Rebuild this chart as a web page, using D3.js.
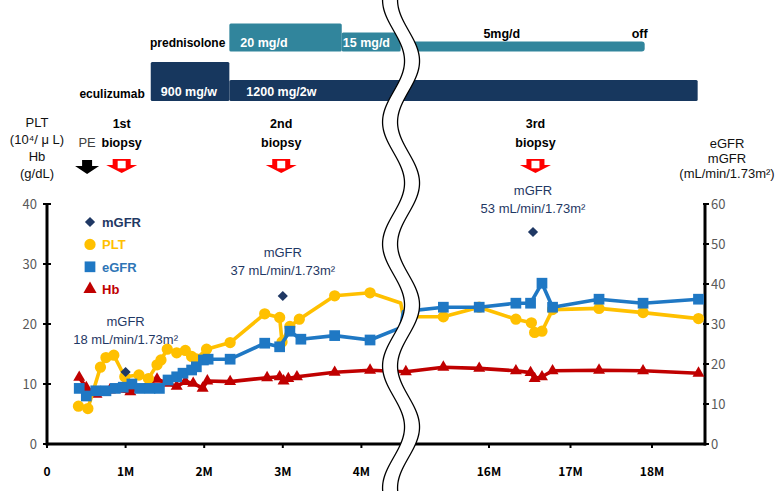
<!DOCTYPE html>
<html><head><meta charset="utf-8">
<script src="https://cdn.jsdelivr.net/npm/d3@7"></script>
<style>body{margin:0;background:#fff}svg{display:block}</style>
</head><body><svg id="c" width="778" height="491"></svg>
<script>
// ---------------- data ----------------
const xTickMonths = [0, 1, 2, 3, 4, 16, 17, 18];
const xTickLabels = ["0", "1M", "2M", "3M", "4M", "16M", "17M", "18M"];
const leftTicks = [0, 10, 20, 30, 40];
const rightTicks = [0, 10, 20, 30, 40, 50, 60];
const breakMonths = [4.5, 14.95];

const pltMonths = [0.40,0.52,0.68,0.75,0.85,0.99,1.17,1.29,1.40,1.45,1.53,1.65,1.76,1.84,1.90,2.03,2.33,2.77,2.96,2.99,3.09,3.21,3.66,4.11,15.44,15.88,16.33,16.52,16.56,16.65,16.78,17.35,17.89,18.57];
const pltValues = [6.3,5.9,12.8,14.4,14.8,11.2,11.5,10.9,13.2,14.0,15.8,15.2,15.6,14.6,14.2,15.8,16.9,21.7,21.1,17.0,19.6,20.8,24.7,25.2,21.2,22.8,20.8,20.2,18.6,18.8,22.4,22.6,21.9,20.9];
const pltBridge = [23.5, 21.2];

const egfrMonths = [0.41,0.50,0.62,0.75,0.87,0.97,1.08,1.18,1.31,1.43,1.54,1.65,1.73,1.84,1.90,1.99,2.05,2.33,2.77,2.96,3.09,3.23,3.66,4.11,15.44,15.88,16.33,16.51,16.65,16.78,17.35,17.89,18.57];
const egfrValues = [13.9,12.0,13.3,13.3,13.9,14.2,15.0,13.9,13.9,13.9,16.0,16.8,17.7,18.5,19.3,21.0,21.2,21.2,25.2,24.3,28.2,26.2,27.1,26.0,34.2,34.2,35.2,35.2,40.2,34.2,36.2,35.2,36.2];
const egfrBridge = [29.1, 33.1];

const hbMonths = [0.41,0.50,0.63,0.80,1.06,1.40,1.54,1.65,1.76,1.86,1.98,2.04,2.33,2.80,2.96,3.01,3.07,3.18,3.66,4.11,14.98,15.44,15.88,16.33,16.51,16.56,16.65,16.78,17.35,17.89,18.57];
const hbValues = [11.1,9.4,8.3,9.0,8.7,10.8,10.1,9.6,10.4,10.1,9.3,10.5,10.4,11.05,11.2,10.5,10.9,11.2,11.95,12.3,12.05,12.8,12.6,12.2,11.9,10.9,11.2,12.2,12.3,12.2,11.8];

const mgfrMonths = [1.0, 3.0, 16.54];
const mgfrValues = [18, 37, 53];

const predStart = [2.32, 3.75, 14.95];
const predEnd = [3.75, 4.5, 17.91];
const predDose = [20, 15, 5];
const predLabels = ["20 mg/d", "15 mg/d", "5mg/d"];

const ecuStart = [1.32, 2.32];
const ecuEnd = [2.32, 18.56];
const ecuWeeklyDose = [900, 600];
const ecuLabels = ["900 mg/w", "1200 mg/2w"];

const peMonth = 0.51;
const biopsyMonths = [0.95, 2.98, 16.57];
const biopsyLabels = [["1st", "biopsy"], ["2nd", "biopsy"], ["3rd", "biopsy"]];

// ---------------- styles ----------------
const C = {plt: "#FFC000", egfr: "#1F78C4", egfrText: "#2E75B6", hb: "#C00000", mgfr: "#1F3864",
  pred: "#31859C", ecu: "#17375E", tick: "#595959"};
const FONT = "'Liberation Sans', Arial, sans-serif";
const JFONT = "'Noto Sans CJK JP', 'Liberation Sans', sans-serif";

const svg = d3.select("#c");
const x = d3.scaleLinear().domain([0, breakMonths[0], breakMonths[1], 18.65]).range([47, 400.7, 403.4, 705]);
const yL = d3.scaleLinear().domain([0, 40]).range([444, 204]);
const yR = d3.scaleLinear().domain([0, 60]).range([444, 204]);

// ---------------- treatment bars ----------------
const predH = d3.scaleLinear().domain([5, 15, 20]).range([10, 19, 28]);
const ecuH = d3.scaleLinear().domain([600, 900]).range([21, 39]);
const predBottom = 51.5, ecuBottom = 101;
const predLabelDx = [11, 1, 80], predLabelY = [47, 47, 38], predLabelColor = ["#fff", "#fff", "#000"];
const ecuLabelDx = [10, 17];

predStart.forEach((s, i) => {
  svg.append("rect").attr("x", x(s)).attr("width", x(predEnd[i]) - x(s))
    .attr("y", predBottom - predH(predDose[i])).attr("height", predH(predDose[i]))
    .attr("rx", i === 2 ? 3 : 1.5).attr("fill", C.pred);
  svg.append("text").attr("x", x(s) + predLabelDx[i]).attr("y", predLabelY[i])
    .attr("font-family", FONT).attr("font-weight", "bold").attr("font-size", 12.5)
    .attr("fill", predLabelColor[i]).text(predLabels[i]);
});
svg.append("text").attr("x", x(predEnd[2]) + 3).attr("y", predLabelY[2]).attr("text-anchor", "end")
  .attr("font-family", FONT).attr("font-weight", "bold").attr("font-size", 12.5).text("off");
ecuStart.forEach((s, i) => {
  svg.append("rect").attr("x", x(s)).attr("width", x(ecuEnd[i]) - x(s))
    .attr("y", ecuBottom - ecuH(ecuWeeklyDose[i])).attr("height", ecuH(ecuWeeklyDose[i]))
    .attr("rx", 1.5).attr("fill", C.ecu);
  svg.append("text").attr("x", x(s) + ecuLabelDx[i]).attr("y", 96)
    .attr("font-family", FONT).attr("font-weight", "bold").attr("font-size", 12.5)
    .attr("fill", "#fff").text(ecuLabels[i]);
});
svg.append("text").attr("x", x(predStart[0]) - 4).attr("y", 47).attr("text-anchor", "end")
  .attr("font-family", FONT).attr("font-weight", "bold").attr("font-size", 12).text("prednisolone");
svg.append("text").attr("x", x(ecuStart[0]) - 6).attr("y", 98).attr("text-anchor", "end")
  .attr("font-family", FONT).attr("font-weight", "bold").attr("font-size", 12).text("eculizumab");

// ---------------- axis titles ----------------
const leftTitle = ["PLT", "(10⁴/ μ L)", "Hb", "(g/dL)"];
const leftTitleY = [127, 144, 161, 178];
leftTitle.forEach((t, i) => svg.append("text").attr("x", 37).attr("y", leftTitleY[i]).attr("text-anchor", "middle")
  .attr("font-family", FONT).attr("font-size", 13).attr("fill", "#111").text(t));
const rightTitle = ["eGFR", "mGFR", "(mL/min/1.73m²)"];
const rightTitleY = [148, 163, 178];
rightTitle.forEach((t, i) => svg.append("text").attr("x", 727).attr("y", rightTitleY[i]).attr("text-anchor", "middle")
  .attr("font-family", FONT).attr("font-size", 13).attr("fill", "#111").text(t));

// ---------------- event arrows ----------------
function blackArrow(cx, y0) {
  const p = [[cx-5,y0],[cx+5,y0],[cx+5,y0+6],[cx+12,y0+6],[cx,y0+14],[cx-12,y0+6],[cx-5,y0+6]];
  svg.append("polygon").attr("points", p.map(d => d.join(",")).join(" ")).attr("fill", "#000");
}
function redArrow(cx, y0) {
  const p = [[cx-9,y0],[cx+9,y0],[cx+9,y0+6],[cx+15.5,y0+6],[cx,y0+14],[cx-15.5,y0+6],[cx-9,y0+6]];
  svg.append("polygon").attr("points", p.map(d => d.join(",")).join(" ")).attr("fill", "#FF0000");
  svg.append("rect").attr("x", cx-4).attr("y", y0+1.8).attr("width", 8).attr("height", 7.5).attr("fill", "#fff");
}
svg.append("text").attr("x", x(peMonth)).attr("y", 147).attr("text-anchor", "middle")
  .attr("font-family", FONT).attr("font-size", 13).attr("fill", "#404040").text("PE");
blackArrow(x(peMonth), 160);
biopsyMonths.forEach((m, i) => {
  biopsyLabels[i].forEach((t, j) => svg.append("text").attr("x", x(m)).attr("y", 128 + j * 19)
    .attr("text-anchor", "middle").attr("font-family", FONT).attr("font-weight", "bold")
    .attr("font-size", 12.5).attr("fill", "#000").text(t));
  redArrow(x(m), 159);
});

// ---------------- axes ----------------
const ax = svg.append("g").attr("stroke", "#000");
ax.append("line").attr("x1", 47).attr("x2", 47).attr("y1", yL(40) - 1).attr("y2", yL(0) + 1.5).attr("stroke-width", 3);
ax.append("line").attr("x1", 705).attr("x2", 705).attr("y1", yR(60) - 1).attr("y2", yR(0) + 1.5).attr("stroke-width", 3);
ax.append("line").attr("x1", 46).attr("x2", 706).attr("y1", 444).attr("y2", 444).attr("stroke-width", 3);
leftTicks.forEach(v => {
  ax.append("line").attr("x1", 43).attr("x2", 51).attr("y1", yL(v)).attr("y2", yL(v)).attr("stroke-width", 2);
  svg.append("text").attr("x", 37).attr("y", yL(v) + 5).attr("text-anchor", "end")
    .attr("font-family", JFONT).attr("font-size", 13).attr("fill", C.tick).text(v);
});
rightTicks.forEach(v => {
  ax.append("line").attr("x1", 703).attr("x2", 709).attr("y1", yR(v)).attr("y2", yR(v)).attr("stroke-width", 2);
  svg.append("text").attr("x", 711).attr("y", yR(v) + 5).attr("text-anchor", "start")
    .attr("font-family", JFONT).attr("font-size", 13).attr("fill", C.tick).text(v);
});
xTickMonths.forEach((m, i) => {
  ax.append("line").attr("x1", x(m)).attr("x2", x(m)).attr("y1", 444).attr("y2", 448).attr("stroke-width", 2);
  svg.append("text").attr("x", x(m)).attr("y", 476).attr("text-anchor", "middle")
    .attr("font-family", JFONT).attr("font-size", 12).attr("font-weight", "bold").attr("fill", "#000").text(xTickLabels[i]);
});

// ---------------- series ----------------
function merge(ms, vs, bridge) {
  const pts = ms.map((m, i) => ({m, v: vs[i]}));
  if (bridge) breakMonths.forEach((m, i) => pts.push({m, v: bridge[i]}));
  return pts.sort((a, b) => a.m - b.m);
}
function series(ms, vs, bridge, y, color, symType, size, rot) {
  const line = d3.line().x(d => x(d.m)).y(d => y(d.v));
  svg.append("path").attr("d", line(merge(ms, vs, bridge))).attr("fill", "none")
    .attr("stroke", color).attr("stroke-width", 3.6).attr("stroke-linejoin", "round");
  const sym = d3.symbol().type(symType).size(size);
  svg.append("g").selectAll("path").data(ms.map((m, i) => ({m, v: vs[i]}))).join("path")
    .attr("d", sym).attr("fill", color)
    .attr("transform", d => `translate(${x(d.m)},${y(d.v)}) rotate(${rot || 0})`);
}
series(hbMonths, hbValues, null, yL, C.hb, d3.symbolTriangle, 62);
series(pltMonths, pltValues, pltBridge, yL, C.plt, d3.symbolCircle, 100);
series(egfrMonths, egfrValues, egfrBridge, yR, C.egfr, d3.symbolSquare, 115);
svg.append("g").selectAll("path").data(mgfrMonths.map((m, i) => ({m, v: mgfrValues[i]}))).join("path")
  .attr("d", d3.symbol().type(d3.symbolSquare).size(52)).attr("fill", C.mgfr)
  .attr("transform", d => `translate(${x(d.m)},${yR(d.v)}) rotate(45)`);

// mGFR annotations
const annTop = [326, 257, 195];
mgfrMonths.forEach((m, i) => {
  svg.append("text").attr("x", x(m)).attr("y", annTop[i]).attr("text-anchor", "middle")
    .attr("font-family", FONT).attr("font-size", 13).attr("fill", C.mgfr).text("mGFR");
  svg.append("text").attr("x", x(m)).attr("y", annTop[i] + 18).attr("text-anchor", "middle")
    .attr("font-family", FONT).attr("font-size", 13).attr("fill", C.mgfr)
    .text(`${mgfrValues[i]} mL/min/1.73m²`);
});

// ---------------- legend ----------------
const legendNames = ["mGFR", "PLT", "eGFR", "Hb"];
const legendColors = [C.mgfr, C.plt, C.egfr, C.hb];
const legendText = [C.mgfr, C.plt, C.egfrText, C.hb];
const legendSyms = [[d3.symbolSquare, 52, 45], [d3.symbolCircle, 100, 0], [d3.symbolSquare, 115, 0], [d3.symbolTriangle, 75, 0]];
legendNames.forEach((n, i) => {
  const yy = 222 + i * 22.4;
  svg.append("path").attr("d", d3.symbol().type(legendSyms[i][0]).size(legendSyms[i][1]))
    .attr("fill", legendColors[i]).attr("transform", `translate(90,${yy}) rotate(${legendSyms[i][2]})`);
  svg.append("text").attr("x", 102).attr("y", yy + 5).attr("font-family", FONT).attr("font-weight", "bold")
    .attr("font-size", 13).attr("fill", legendText[i]).text(n);
});

// ---------------- axis break band ----------------
const mid = (x(breakMonths[0]) + x(breakMonths[1])) / 2 - 1;
const center = yy => mid - 11 * Math.cos(2 * Math.PI * yy / 122);
const ys = d3.range(-2, 494, 2);
const half = 7.5;
const band = ys.map(yy => [center(yy) - half, yy]).concat(ys.slice().reverse().map(yy => [center(yy) + half, yy]));
svg.append("path").attr("d", d3.line()(band) + "Z").attr("fill", "#fff").attr("stroke", "none");
[-half, half].forEach(o => svg.append("path").attr("d", d3.line().curve(d3.curveBasis)(ys.map(yy => [center(yy) + o, yy])))
  .attr("fill", "none").attr("stroke", "#000").attr("stroke-width", 1.3));
</script></body></html>
